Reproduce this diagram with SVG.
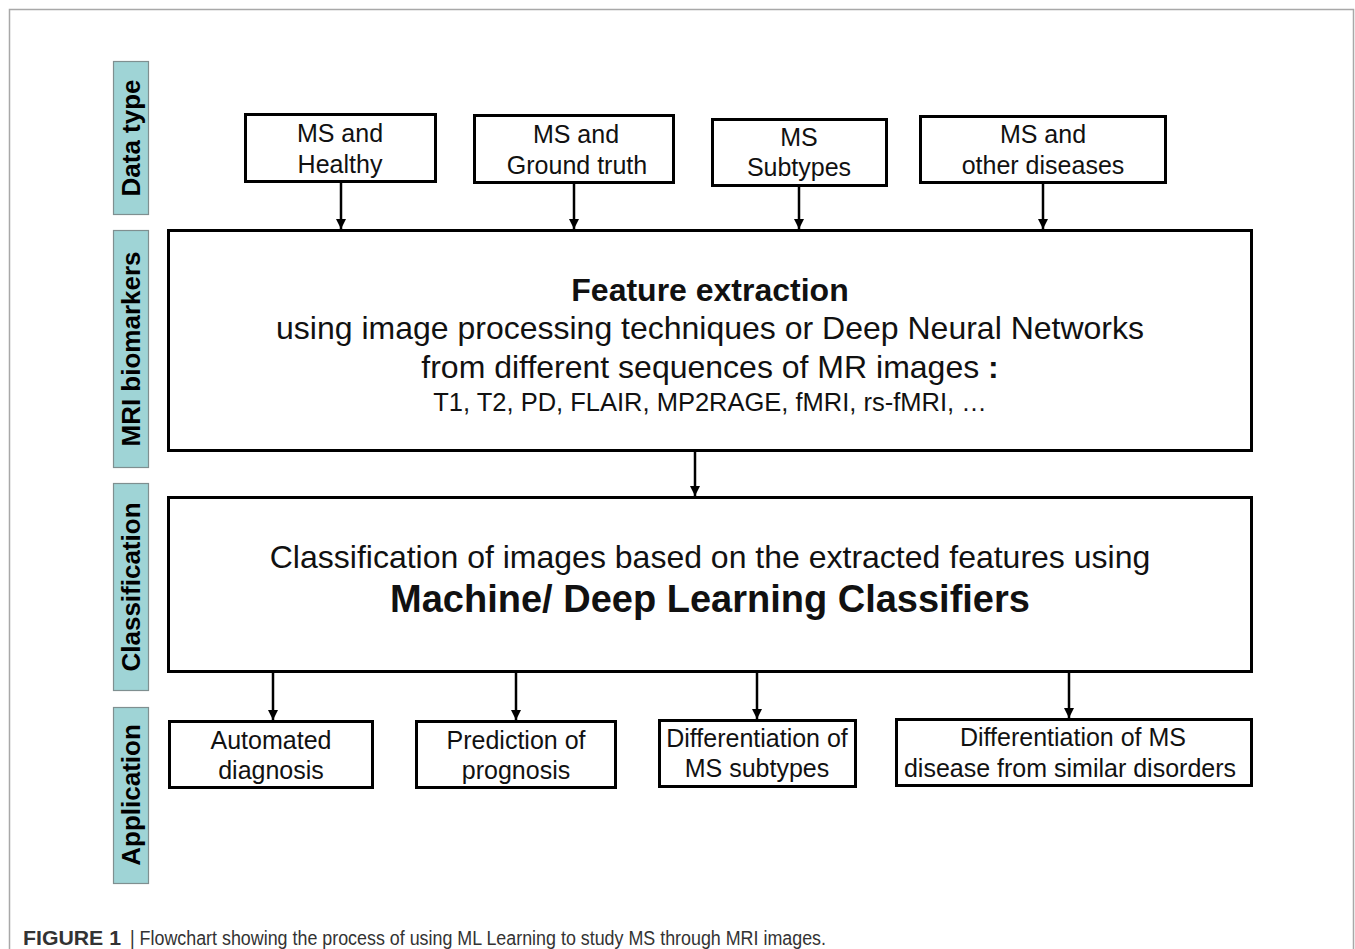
<svg xmlns="http://www.w3.org/2000/svg" width="1355" height="949" viewBox="0 0 1355 949">
<style>
.frame{fill:none;stroke:#a8a8a8;stroke-width:1.5}
.side{fill:#9fd4d6;stroke:#7f8f90;stroke-width:1.2}
.sidet{font-family:"Liberation Sans",Arial,sans-serif;font-weight:bold;font-size:26px;fill:#000;text-anchor:middle}
.box{fill:#fff;stroke:#000;stroke-width:3}
.t{font-family:"Liberation Sans",Arial,sans-serif;font-size:25px;fill:#111;text-anchor:middle}
.big{font-family:"Liberation Sans",Arial,sans-serif;font-size:32px;fill:#111;text-anchor:middle}
.conn{stroke:#000;stroke-width:2.5;fill:none;marker-end:url(#ah)}
.cap{font-family:"Liberation Sans",Arial,sans-serif;font-size:20px;fill:#333}
</style>
<defs>
<marker id="ah" viewBox="0 0 10 10" refX="10" refY="5" markerWidth="4" markerHeight="4" orient="auto" markerUnits="strokeWidth">
<path d="M0,0 L10,5 L0,10 z" fill="#000"/>
</marker>
</defs>
<rect width="1355" height="949" fill="#fff"/>
<path class="frame" d="M9.5,949 V9.5 H1353.5 V949"/>

<g id="side-datatype"><rect class="side" x="113.5" y="61.5" width="35" height="153"/><text class="sidet" transform="translate(140,138) rotate(-90)">Data type</text></g>
<g id="side-mri"><rect class="side" x="113.5" y="230.5" width="35" height="237"/><text class="sidet" transform="translate(140,349) rotate(-90)">MRI biomarkers</text></g>
<g id="side-class"><rect class="side" x="113.5" y="483.5" width="35" height="207"/><text class="sidet" transform="translate(140,587) rotate(-90)">Classification</text></g>
<g id="side-app"><rect class="side" x="113.5" y="707.5" width="35" height="176"/><text class="sidet" transform="translate(140,795) rotate(-90)">Application</text></g>

<g id="connectors">
<line class="conn" x1="341" y1="181" x2="341" y2="229"/>
<line class="conn" x1="574" y1="182" x2="574" y2="229"/>
<line class="conn" x1="799" y1="185" x2="799" y2="229"/>
<line class="conn" x1="1043" y1="182" x2="1043" y2="229"/>
<line class="conn" x1="695" y1="450" x2="695" y2="496"/>
<line class="conn" x1="273" y1="671" x2="273" y2="720"/>
<line class="conn" x1="516" y1="671" x2="516" y2="720"/>
<line class="conn" x1="757" y1="671" x2="757" y2="719"/>
<line class="conn" x1="1069" y1="671" x2="1069" y2="718"/>
</g>

<g id="n-healthy"><rect class="box" x="245.5" y="114.5" width="190" height="67"/><text class="t" x="340" y="142">MS and</text><text class="t" x="340" y="173">Healthy</text></g>
<g id="n-ground"><rect class="box" x="474.5" y="115.5" width="199" height="67"/><text class="t" x="576" y="143">MS and</text><text class="t" x="577" y="174">Ground truth</text></g>
<g id="n-subtypes"><rect class="box" x="712.5" y="119.5" width="174" height="66"/><text class="t" x="799" y="146">MS</text><text class="t" x="799" y="176">Subtypes</text></g>
<g id="n-other"><rect class="box" x="920.5" y="116.5" width="245" height="66"/><text class="t" x="1043" y="143">MS and</text><text class="t" x="1043" y="174">other diseases</text></g>

<g id="n-feature"><rect class="box" x="168.5" y="230.5" width="1083" height="220"/>
<text class="big" x="710" y="301" font-weight="bold">Feature extraction</text>
<text class="big" x="710" y="339">using image processing techniques or Deep Neural Networks</text>
<text class="big" x="710" y="378">from different sequences of MR images <tspan font-weight="bold">:</tspan></text>
<text class="t" x="710" y="411" style="font-size:25.5px">T1, T2, PD, FLAIR, MP2RAGE, fMRI, rs-fMRI, …</text>
</g>

<g id="n-classify"><rect class="box" x="168.5" y="497.5" width="1083" height="174"/>
<text class="big" x="710" y="568">Classification of images based on the extracted features using</text>
<text class="big" x="710" y="612" font-weight="bold" style="font-size:38px">Machine/ Deep Learning Classifiers</text>
</g>

<g id="n-auto"><rect class="box" x="169.5" y="721.5" width="203" height="66"/><text class="t" x="271" y="749">Automated</text><text class="t" x="271" y="779">diagnosis</text></g>
<g id="n-prog"><rect class="box" x="416.5" y="721.5" width="199" height="66"/><text class="t" x="516" y="749">Prediction of</text><text class="t" x="516" y="779">prognosis</text></g>
<g id="n-diffsub"><rect class="box" x="659.5" y="720.5" width="196" height="66"/><text class="t" x="757" y="747">Differentiation of</text><text class="t" x="757" y="777">MS subtypes</text></g>
<g id="n-diffdis"><rect class="box" x="896.5" y="719.5" width="355" height="66"/><text class="t" x="1073" y="746">Differentiation of MS</text><text class="t" x="1070" y="777">disease from similar disorders</text></g>

<text class="cap" x="23" y="945" font-weight="bold" fill="#222" textLength="98" lengthAdjust="spacingAndGlyphs">FIGURE 1</text>
<text class="cap" x="130" y="945" textLength="696" lengthAdjust="spacingAndGlyphs">| Flowchart showing the process of using ML Learning to study MS through MRI images.</text>
</svg>
